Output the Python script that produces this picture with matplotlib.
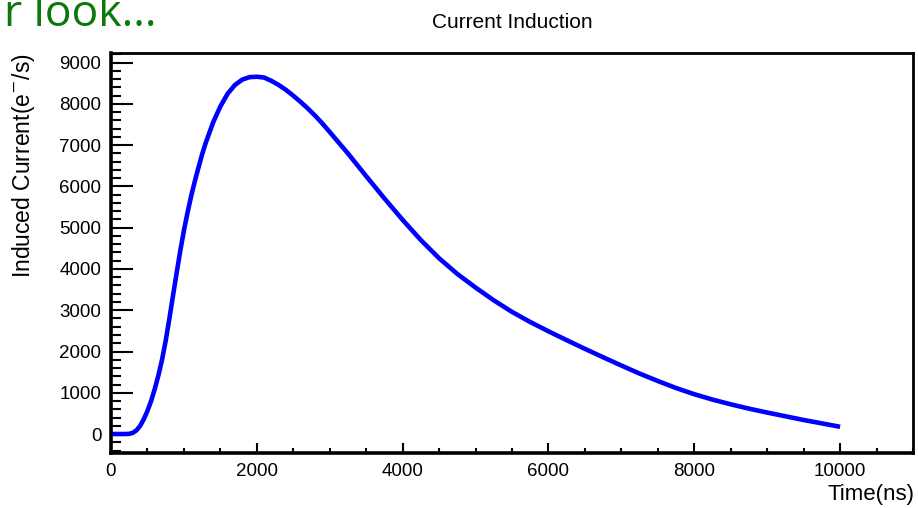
import matplotlib
matplotlib.use("Agg")
import matplotlib.pyplot as plt
from matplotlib.ticker import MultipleLocator

# ---- data ----
time_ns = [0, 100, 200, 250, 300, 350, 400, 450, 500, 550, 600, 650, 700, 750,
           800, 850, 900, 950, 1000, 1050, 1100, 1150, 1200, 1250, 1300, 1400,
           1500, 1600, 1700, 1800, 1900, 2000, 2100, 2200, 2300, 2400, 2500,
           2600, 2700, 2800, 2900, 3000, 3250, 3500, 3750, 4000, 4250, 4500,
           4750, 5000, 5250, 5500, 5750, 6000, 6250, 6500, 6750, 7000, 7250,
           7500, 7750, 8000, 8250, 8500, 8750, 9000, 9250, 9500, 9750, 10000]
current = [0, 0, 0, 5, 30, 90, 200, 360, 560, 800, 1090, 1420, 1800, 2260,
           2790, 3350, 3900, 4440, 4930, 5370, 5770, 6130, 6460, 6780, 7060, 7550,
           7940, 8250, 8460, 8590, 8650, 8660, 8640, 8560, 8460, 8340, 8200,
           8050, 7890, 7715, 7525, 7320, 6800, 6250, 5710, 5190, 4700, 4260,
           3880, 3550, 3240, 2960, 2715, 2490, 2275, 2065, 1860, 1660, 1465,
           1285, 1115, 965, 835, 720, 615, 520, 430, 340, 258, 175]

title = "Current Induction"
xlabel = "Time(ns)"
ylabel = "Induced Current(e$^{-}$/s)"
header = "r look..."

W, H = 918, 508
fig = plt.figure(figsize=(W / 100, H / 100), dpi=100)
plt.rcParams['font.family'] = ['Liberation Sans', 'DejaVu Sans']

L, R, T, B = 111, 913, 53, 453
ax = fig.add_axes([L / W, (H - B) / H, (R - L) / W, (B - T) / H])
ax.plot(time_ns, current, color=(0, 0, 1), lw=3.3, solid_capstyle='butt',
        solid_joinstyle='round')

ax.set_xlim(0, 11000)
ax.set_ylim(-460, 9235)

ax.xaxis.set_major_locator(MultipleLocator(2000))
ax.xaxis.set_minor_locator(MultipleLocator(500))
ax.yaxis.set_major_locator(MultipleLocator(1000))
ax.yaxis.set_minor_locator(MultipleLocator(200))

ax.tick_params(axis='both', which='both', direction='in', top=False, right=False,
               labelsize=13.5, colors='black', width=1.5)
ax.tick_params(axis='x', which='major', length=7.5, pad=7)
ax.tick_params(axis='x', which='minor', length=3.5)
ax.tick_params(axis='y', which='major', length=16, pad=7)
ax.tick_params(axis='y', which='minor', length=7.5)

for s in ['left', 'bottom']:
    ax.spines[s].set_linewidth(2.6)
for s in ['top', 'right']:
    ax.spines[s].set_linewidth(2.0)

fig.text(512 / W, (H - 28) / H, title, ha='center', va='baseline', fontsize=15)
fig.text(915 / W, 8 / H, xlabel, ha='right', va='baseline', fontsize=16)
fig.text(24 / W, (H - 53) / H, ylabel, ha='center', va='top', rotation=90, fontsize=16.5)
fig.text(157 / W, (H - 26) / H, header, ha='right', va='baseline', fontsize=32,
         color='#0a780a', family=['Open Sans', 'DejaVu Sans'])

fig.savefig("out.png", dpi=100)
